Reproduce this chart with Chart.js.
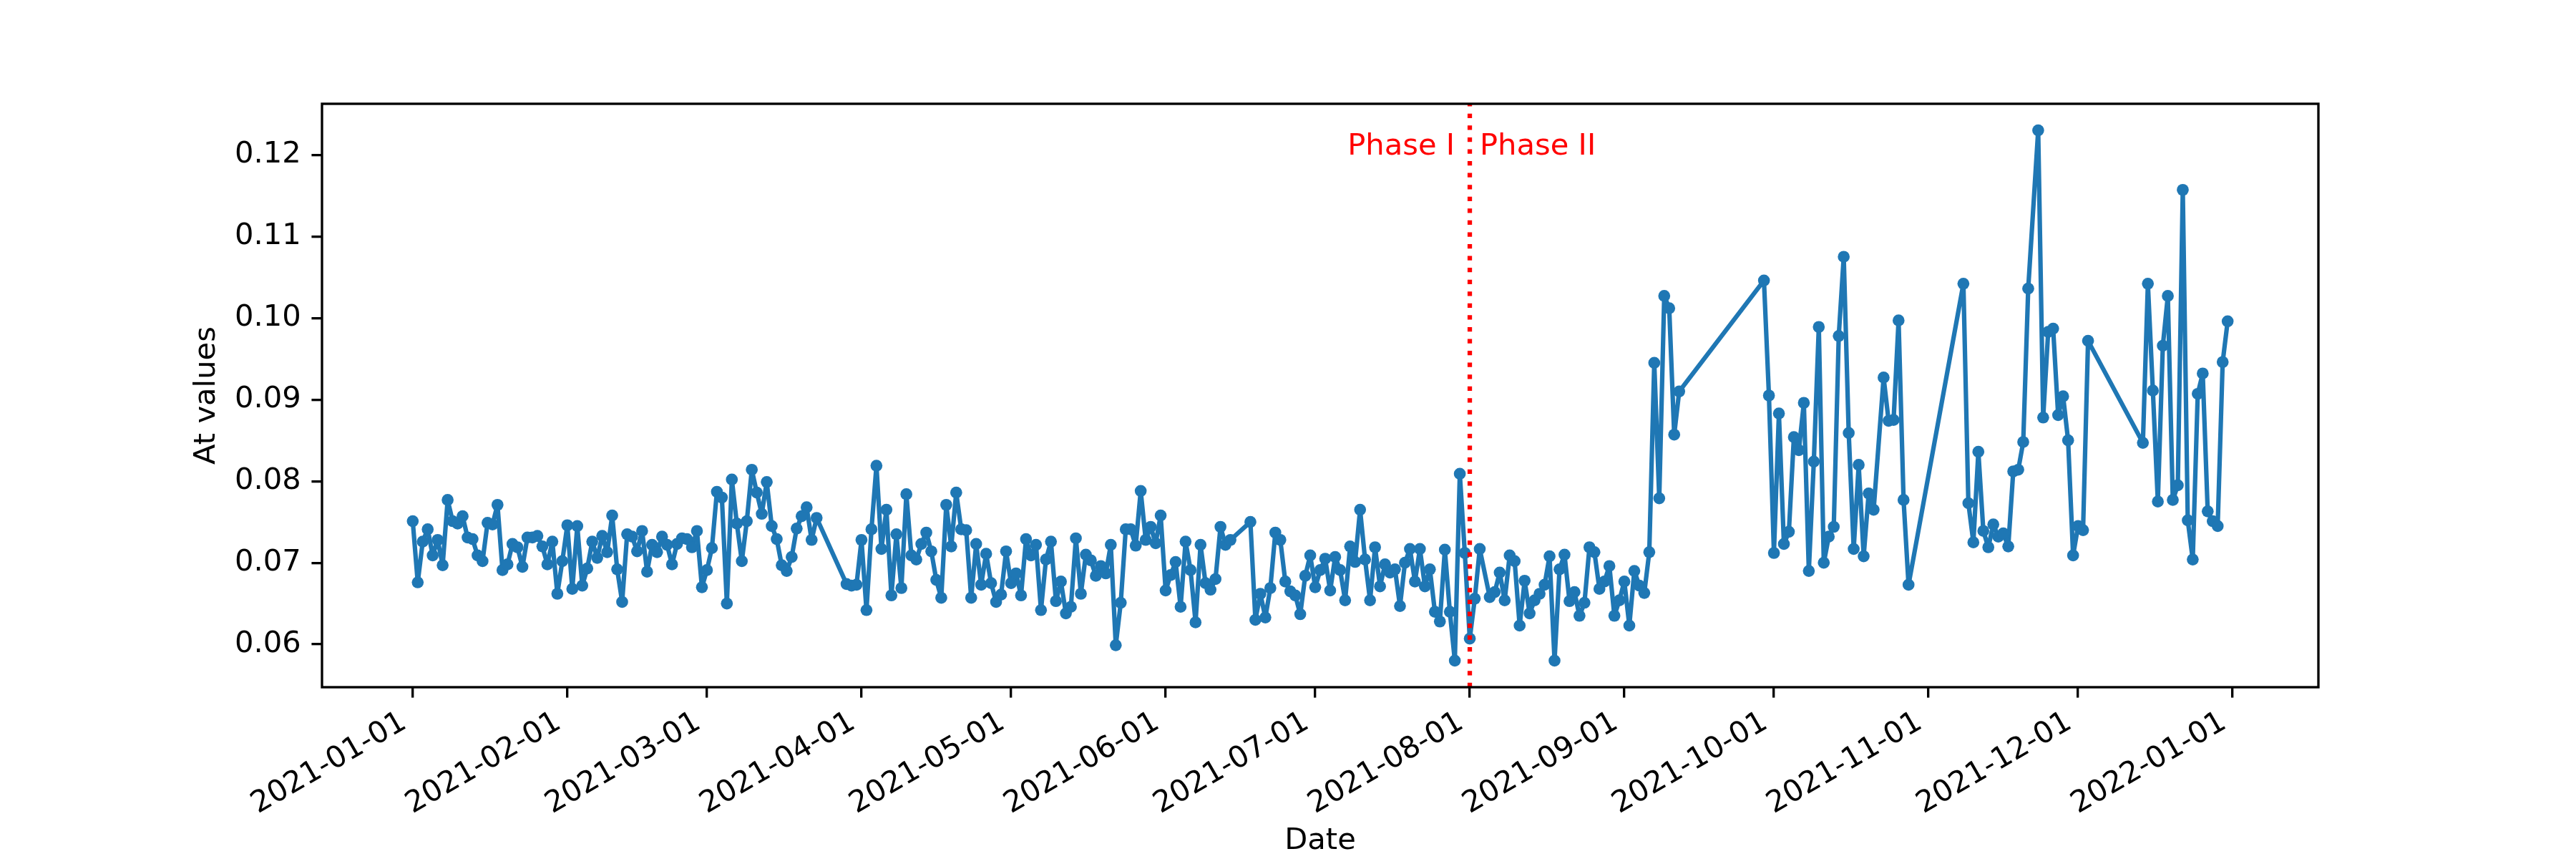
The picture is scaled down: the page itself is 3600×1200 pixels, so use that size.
<!DOCTYPE html>
<html>
<head>
<meta charset="utf-8">
<script src="https://cdn.jsdelivr.net/npm/chart.js@4.4.1/dist/chart.umd.min.js"></script>
<style>
  html, body { margin: 0; padding: 0; background: #fff; }
  canvas { display: block; }
</style>
</head>
<body>
<canvas id="atChart" width="3600" height="1200"></canvas>
<script>
// Valores, um par de listas por mês (dia do mês / valor)
const janDays = [1,2,3,4,5,6,7,8,9,10,11,12,13,14,15,16,17,18,19,20,21,22,23,24,25,26,27,28,29,30,31];
const janAt = [0.0751,0.0676,0.0726,0.0741,0.0709,0.0728,0.0697,0.0777,0.0751,0.0748,0.0757,0.0731,0.0729,0.0709,0.0702,0.0749,0.0747,0.0771,0.0691,0.0698,0.0723,0.0719,0.0695,0.0731,0.0731,0.0733,0.0720,0.0698,0.0726,0.0662,0.0702];

const febDays = [1,2,3,4,5,6,7,8,9,10,11,12,13,14,15,16,17,18,19,20,21,22,23,24,25,26,27,28];
const febAt = [0.0746,0.0668,0.0745,0.0672,0.0693,0.0726,0.0706,0.0733,0.0713,0.0758,0.0692,0.0652,0.0735,0.0732,0.0714,0.0739,0.0689,0.0722,0.0713,0.0732,0.0722,0.0698,0.0723,0.0730,0.0729,0.0719,0.0739,0.0670];

const marDays = [1,2,3,4,5,6,7,8,9,10,11,12,13,14,15,16,17,18,19,20,21,22,23,29,30,31];
const marAt = [0.0691,0.0718,0.0787,0.0780,0.0650,0.0802,0.0748,0.0702,0.0751,0.0814,0.0786,0.0760,0.0799,0.0745,0.0729,0.0697,0.0690,0.0707,0.0742,0.0757,0.0768,0.0728,0.0755,0.0674,0.0672,0.0673];

const aprDays = [1,2,3,4,5,6,7,8,9,10,11,12,13,14,15,16,17,18,19,20,21,22,23,24,25,26,27,28,29,30];
const aprAt = [0.0728,0.0642,0.0741,0.0819,0.0717,0.0765,0.0660,0.0735,0.0669,0.0784,0.0709,0.0704,0.0723,0.0737,0.0714,0.0679,0.0657,0.0771,0.0720,0.0786,0.0741,0.0740,0.0657,0.0723,0.0673,0.0711,0.0675,0.0652,0.0661,0.0714];

const mayDays = [1,2,3,4,5,6,7,8,9,10,11,12,13,14,15,16,17,18,19,20,21,22,23,24,25,26,27,28,29,30,31];
const mayAt = [0.0675,0.0687,0.0660,0.0729,0.0709,0.0722,0.0642,0.0704,0.0726,0.0653,0.0677,0.0638,0.0646,0.0730,0.0662,0.0710,0.0703,0.0684,0.0696,0.0687,0.0722,0.0599,0.0651,0.0741,0.0741,0.0721,0.0788,0.0728,0.0744,0.0724,0.0758];

const junDays = [1,2,3,4,5,6,7,8,9,10,11,12,13,14,18,19,20,21,22,23,24,25,26,27,28,29,30];
const junAt = [0.0666,0.0685,0.0701,0.0646,0.0726,0.0691,0.0627,0.0722,0.0675,0.0667,0.0680,0.0744,0.0722,0.0728,0.0750,0.0630,0.0662,0.0633,0.0669,0.0737,0.0728,0.0677,0.0665,0.0660,0.0637,0.0684,0.0709];

const julDays = [1,2,3,4,5,6,7,8,9,10,11,12,13,14,15,16,17,18,19,20,21,22,23,24,25,26,27,28,29,30,31];
const julAt = [0.0670,0.0691,0.0705,0.0666,0.0707,0.0691,0.0654,0.0720,0.0701,0.0765,0.0704,0.0654,0.0719,0.0671,0.0698,0.0688,0.0692,0.0647,0.0700,0.0717,0.0677,0.0717,0.0671,0.0692,0.0640,0.0628,0.0716,0.0640,0.0580,0.0809,0.0712];

const augDays = [1,2,3,5,6,7,8,9,10,11,12,13,14,15,16,17,18,19,20,21,22,23,24,25,26,27,28,29,30,31];
const augAt = [0.0607,0.0656,0.0717,0.0658,0.0664,0.0688,0.0654,0.0709,0.0702,0.0623,0.0678,0.0638,0.0654,0.0662,0.0673,0.0708,0.0580,0.0692,0.0710,0.0653,0.0664,0.0635,0.0651,0.0719,0.0713,0.0668,0.0677,0.0696,0.0635,0.0654];

const sepDays = [1,2,3,4,5,6,7,8,9,10,11,12,29,30];
const sepAt = [0.0677,0.0623,0.0690,0.0672,0.0663,0.0713,0.0945,0.0779,0.1027,0.1012,0.0857,0.0910,0.1046,0.0905];

const octDays = [1,2,3,4,5,6,7,8,9,10,11,12,13,14,15,16,17,18,19,20,21,23,24,25,26,27,28];
const octAt = [0.0712,0.0883,0.0723,0.0738,0.0854,0.0838,0.0896,0.0690,0.0824,0.0989,0.0700,0.0732,0.0744,0.0978,0.1075,0.0859,0.0717,0.0820,0.0708,0.0785,0.0765,0.0927,0.0874,0.0875,0.0997,0.0777,0.0673];

const novDays = [8,9,10,11,12,13,14,15,16,17,18,19,20,21,23,24,25,26,27,28,29,30];
const novAt = [0.1042,0.0773,0.0725,0.0836,0.0739,0.0719,0.0747,0.0732,0.0736,0.0720,0.0812,0.0814,0.0848,0.1036,0.1230,0.0878,0.0983,0.0987,0.0881,0.0904,0.0850,0.0709];

const decDays = [1,2,3,14,15,16,17,18,19,20,21,22,23,24,25,26,27,28,29,30,31];
const decAt = [0.0745,0.0740,0.0972,0.0847,0.1042,0.0911,0.0775,0.0966,0.1027,0.0777,0.0795,0.1157,0.0752,0.0704,0.0907,0.0932,0.0763,0.0751,0.0745,0.0946,0.0996];

// Rótulos do eixo X e do eixo Y
const tickDates = ['2021-01-01','2021-02-01','2021-03-01','2021-04-01','2021-05-01','2021-06-01','2021-07-01','2021-08-01','2021-09-01','2021-10-01','2021-11-01','2021-12-01','2022-01-01'];
const yTicks = [0.06, 0.07, 0.08, 0.09, 0.10, 0.11, 0.12];

// Divisão das fases
const phaseSplit = '2021-08-01';
const phaseLabels = ['Phase I', 'Phase II'];
const phaseLabelY = 0.12;

const PT = 300 / 72;          // 1pt em pixels (figura a 300 dpi)
const FONT = '"DejaVu Sans", "Liberation Sans", sans-serif';
const BLUE = '#1f77b4';
const DAY = 86400000;
const START = Date.UTC(2021, 0, 1);

// Dias desde 2021-01-01
function dayOf(str) {
    return (Date.parse(str + 'T00:00:00Z') - START) / DAY;
}

const months = [
    [janDays, janAt], [febDays, febAt], [marDays, marAt], [aprDays, aprAt],
    [mayDays, mayAt], [junDays, junAt], [julDays, julAt], [augDays, augAt],
    [sepDays, sepAt], [octDays, octAt], [novDays, novAt], [decDays, decAt]
];

const points = [];
months.forEach(([days, vals], m) => {
    days.forEach((d, i) => {
        points.push({ x: (Date.UTC(2021, m, d) - START) / DAY, y: vals[i] });
    });
});

// Margens de 5% como no matplotlib
const xs = points.map(p => p.x), ys = points.map(p => p.y);
const xMinD = Math.min(...xs), xMaxD = Math.max(...xs);
const yMinD = Math.min(...ys), yMaxD = Math.max(...ys);
const xPad = (xMaxD - xMinD) * 0.05, yPad = (yMaxD - yMinD) * 0.05;

// Linha vertical pontilhada, textos e moldura dos eixos
const phasePlugin = {
    id: 'phases',
    afterDatasetsDraw(chart) {
        const { ctx, chartArea, scales: { x, y } } = chart;
        const split = dayOf(phaseSplit);
        const px = x.getPixelForValue(split);
        ctx.save();
        ctx.strokeStyle = '#ff0000';
        ctx.lineWidth = 1.5 * PT;
        ctx.lineCap = 'butt';
        ctx.setLineDash([1 * 1.5 * PT, 1.65 * 1.5 * PT]);
        ctx.beginPath();
        ctx.moveTo(px, chartArea.bottom);
        ctx.lineTo(px, chartArea.top);
        ctx.stroke();
        ctx.setLineDash([]);

        ctx.fillStyle = '#ff0000';
        ctx.font = (10 * PT) + 'px ' + FONT;
        ctx.textBaseline = 'alphabetic';
        const ty = y.getPixelForValue(phaseLabelY);
        ctx.textAlign = 'right';
        ctx.fillText(phaseLabels[0], x.getPixelForValue(split - 3), ty);
        ctx.textAlign = 'left';
        ctx.fillText(phaseLabels[1], x.getPixelForValue(split + 2), ty);
        ctx.restore();
    },
    afterDraw(chart) {
        const { ctx, chartArea } = chart;
        ctx.save();
        ctx.strokeStyle = '#000';
        ctx.lineWidth = 0.8 * PT;
        ctx.strokeRect(chartArea.left, chartArea.top,
                       chartArea.right - chartArea.left, chartArea.bottom - chartArea.top);
        ctx.restore();
    }
};

const tickFont = { family: FONT, size: 10 * PT };

new Chart(document.getElementById('atChart').getContext('2d'), {
    type: 'line',
    data: {
        datasets: [{
            data: points,
            borderColor: BLUE,
            backgroundColor: BLUE,
            borderWidth: 1.5 * PT,
            borderJoinStyle: 'round',
            pointRadius: 4 * PT / 2,
            pointBorderWidth: 0,
            pointBackgroundColor: BLUE,
            tension: 0,
            fill: false
        }]
    },
    options: {
        responsive: false,
        animation: false,
        devicePixelRatio: 1,
        layout: { padding: { left: 0, top: 145, right: 360, bottom: 0 } },
        plugins: { legend: { display: false }, tooltip: { enabled: false } },
        scales: {
            x: {
                type: 'linear',
                min: xMinD - xPad,
                max: xMaxD + xPad,
                afterBuildTicks(scale) {
                    scale.ticks = tickDates.map(s => ({ value: dayOf(s) }));
                },
                afterFit(scale) { scale.height = 240; },
                ticks: {
                    autoSkip: false,
                    minRotation: 30,
                    maxRotation: 30,
                    padding: 10,
                    labelOffset: -12,
                    color: '#000',
                    font: tickFont,
                    callback: (value, index) => tickDates[index]
                },
                grid: {
                    display: true,
                    drawOnChartArea: false,
                    drawTicks: true,
                    tickLength: 3.5 * PT,
                    lineWidth: 0.8 * PT,
                    color: '#000'
                },
                border: { display: false },
                title: {
                    display: true,
                    text: 'Date',
                    color: '#000',
                    font: tickFont,
                    padding: { top: 0, bottom: 0 }
                }
            },
            y: {
                type: 'linear',
                min: yMinD - yPad,
                max: yMaxD + yPad,
                afterBuildTicks(scale) {
                    scale.ticks = yTicks.map(v => ({ value: v }));
                },
                afterFit(scale) { scale.width = 450; },
                ticks: {
                    padding: 3.5 * PT,
                    color: '#000',
                    font: tickFont,
                    callback: v => v.toFixed(2)
                },
                grid: {
                    display: true,
                    drawOnChartArea: false,
                    drawTicks: true,
                    tickLength: 3.5 * PT,
                    lineWidth: 0.8 * PT,
                    color: '#000'
                },
                border: { display: false },
                title: {
                    display: true,
                    text: 'At values',
                    color: '#000',
                    font: tickFont,
                    padding: { top: 264, bottom: 0 }
                }
            }
        }
    },
    plugins: [phasePlugin]
});
</script>
</body>
</html>
